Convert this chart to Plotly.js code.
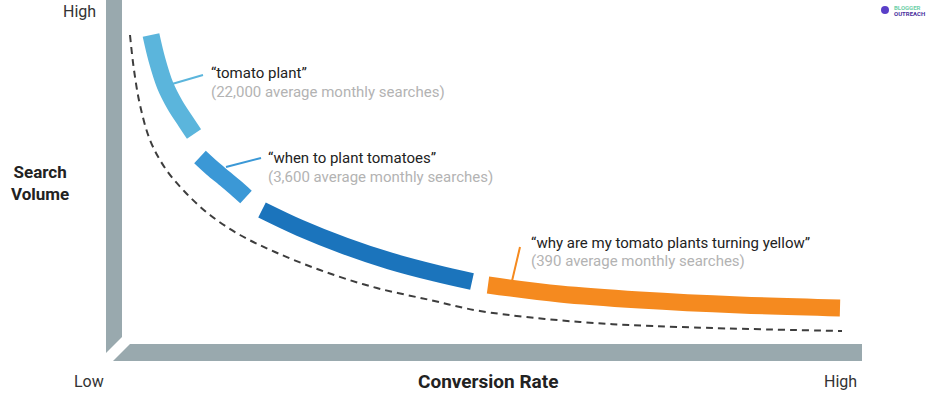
<!DOCTYPE html>
<html>
<head>
<meta charset="utf-8">
<script src="https://cdn.plot.ly/plotly-3.0.1.min.js"></script>
<style>html,body{margin:0;padding:0;background:#fff;}#chart{width:936px;height:394px;}</style>
</head>
<body>
<div id="chart"></div>
<script>
// Reference long-tail curve (dashed), in chart units (x: conversion rate, y: search volume, inverted screen units)
const curveX = [130,134,140,150,165,185,210,240,275,320,373,430,480,580,680,842];
const curveY = [35,70,105,140,168,192,215,235,252,270,287,300,311,322,327,331];

// Keyword segments along the band
const seg1X = [151,157,165,175,186,194];
const seg1Y = [35,60,85,105,122,134];
const seg2X = [200,212,224,236,246];
const seg2Y = [157,168,178,188,197];
const seg3X = [262,300,345,390,435,472];
const seg3Y = [210,228,246,261,273,281.5];
const seg4X = [488,560,640,740,840];
const seg4Y = [285,294,300,305,308];

// Leader lines [x0,x1],[y0,y1]
const lead1X = [172,203]; const lead1Y = [84,75];
const lead2X = [226,261]; const lead2Y = [167,158];
const lead4X = [512,520]; const lead4Y = [281,247];

const keywords = ['\u201Ctomato plant\u201D', '\u201Cwhen to plant tomatoes\u201D', '\u201Cwhy are my tomato plants turning yellow\u201D'];
const searches = ['(22,000 average monthly searches)', '(3,600 average monthly searches)', '(390 average monthly searches)'];
const labelX = [209, 266, 529];
const labelY1 = [73, 158, 243];
const labelY2 = [92, 177, 261];

const colors = ['#5bb5dc', '#3b98d6', '#1b74bc', '#f58a1f'];

const traces = [];
function line(x, y, color, width, extra) {
  traces.push(Object.assign({type:'scatter', mode:'lines', x:x, y:y, hoverinfo:'skip',
    line:Object.assign({color:color, width:width}, extra||{})}));
}
line(curveX, curveY, '#3d3d3d', 2, {dash:'7px,5px', shape:'spline', smoothing:1});
line(seg1X, seg1Y, colors[0], 17, {shape:'spline'});
line(seg2X, seg2Y, colors[1], 17, {shape:'spline'});
line(seg3X, seg3Y, colors[2], 17, {shape:'spline'});
line(seg4X, seg4Y, colors[3], 17, {shape:'spline'});
line(lead1X, lead1Y, colors[0], 2);
line(lead2X, lead2Y, colors[1], 2);
line(lead4X, lead4Y, colors[3], 2);

const font = 'Roboto, "Open Sans", sans-serif';
const annotations = [];
for (let i = 0; i < keywords.length; i++) {
  annotations.push({x:labelX[i], y:labelY1[i], xref:'x', yref:'y', text:keywords[i], showarrow:false,
    xanchor:'left', yanchor:'middle', font:{family:font, size:15, color:'#222'}});
  annotations.push({x:labelX[i], y:labelY2[i], xref:'x', yref:'y', text:searches[i], showarrow:false,
    xanchor:'left', yanchor:'middle', font:{family:font, size:15, color:'#b3b3b3'}});
}
annotations.push({x:98, y:11, xref:'x', yref:'y', text:'High', showarrow:false, xanchor:'right', yanchor:'middle', font:{family:font, size:16, color:'#333'}});
annotations.push({x:40, y:183, xref:'x', yref:'y', text:'<b>Search<br>Volume</b>', showarrow:false, xanchor:'center', yanchor:'middle', align:'center', font:{family:font, size:17, color:'#222'}});
annotations.push({x:72, y:381, xref:'x', yref:'y', text:'Low', showarrow:false, xanchor:'left', yanchor:'middle', font:{family:font, size:16, color:'#333'}});
annotations.push({x:859, y:381, xref:'x', yref:'y', text:'High', showarrow:false, xanchor:'right', yanchor:'middle', font:{family:font, size:16, color:'#333'}});
annotations.push({x:488, y:381, xref:'x', yref:'y', text:'<b>Conversion Rate</b>', showarrow:false, xanchor:'center', yanchor:'middle', font:{family:font, size:19, color:'#222'}});
annotations.push({x:892, y:7.5, xref:'x', yref:'y', text:'<b>BLOGGER</b>', showarrow:false, xanchor:'left', yanchor:'middle', font:{family:font, size:6, color:'#6fd0a8'}});
annotations.push({x:892, y:13.5, xref:'x', yref:'y', text:'<b>OUTREACH</b>', showarrow:false, xanchor:'left', yanchor:'middle', font:{family:font, size:6, color:'#4a2f9e'}});

const axisGrey = '#99a9ae';
const shapes = [
  {type:'path', xref:'x', yref:'y', path:'M106,0 L122,0 L122,337 L106,353 Z', fillcolor:axisGrey, line:{width:0}, layer:'below'},
  {type:'path', xref:'x', yref:'y', path:'M130,344 L862,344 L862,361 L113,361 Z', fillcolor:axisGrey, line:{width:0}, layer:'below'},
  {type:'circle', xref:'x', yref:'y', x0:881, x1:889, y0:6, y1:14, fillcolor:'#5a3fc8', line:{width:0}}
];

const layout = {
  width:936, height:394, margin:{l:0,r:0,t:0,b:0},
  paper_bgcolor:'#fff', plot_bgcolor:'#fff', showlegend:false,
  xaxis:{range:[0,936], visible:false, fixedrange:true},
  yaxis:{range:[394,0], visible:false, fixedrange:true},
  annotations:annotations, shapes:shapes
};
Plotly.newPlot('chart', traces, layout, {displayModeBar:false, staticPlot:true});
</script>
</body>
</html>
